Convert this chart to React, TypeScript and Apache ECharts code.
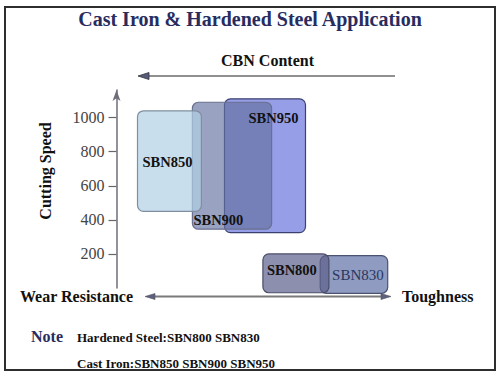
import React, { useEffect, useRef } from 'react';
import * as echarts from 'echarts';

// ---- data ----
const grades = ['SBN950', 'SBN900', 'SBN850', 'SBN830', 'SBN800'];
const toughnessFrom = [36, 25.3, 7, 67.9, 48.8];
const toughnessTo = [63, 51.7, 28.3, 90.4, 70.8];
const speedHigh = [1110, 1090, 1040, 190, 200];
const speedLow = [325, 345, 450, -31, -28];
const speedTicks = [200, 400, 600, 800, 1000];
const noteLines = ['Hardened Steel:SBN800 SBN830', 'Cast Iron:SBN850 SBN900 SBN950'];

// ---- styles ----
const SERIF = '"Liberation Serif", "DejaVu Serif", serif';
const gradeStyle: Record<string, any> = {
  SBN950: { fill: 'rgba(93,106,220,0.65)', stroke: '#3c4270', place: 'topRight', weight: 'bold', color: '#111', size: 14.5 },
  SBN900: { fill: 'rgba(100,112,160,0.65)', stroke: '#6a7090', place: 'bottomLeft', weight: 'bold', color: '#111', size: 14.5 },
  SBN850: { fill: 'rgba(176,208,228,0.7)', stroke: '#7f8fa0', place: 'center', weight: 'bold', color: '#111', size: 14.5 },
  SBN830: { fill: 'rgba(83,101,158,0.65)', stroke: '#4a5270', place: 'centerRight', weight: 'normal', color: '#2a3760', size: 15 },
  SBN800: { fill: 'rgba(91,95,139,0.7)', stroke: '#4a4d66', place: 'topLeft', weight: 'bold', color: '#111', size: 14.5 },
};

function labelPos(place: string, l: number, t: number, r: number, b: number) {
  switch (place) {
    case 'topRight': return { x: r - 7, y: t + 19, align: 'right' };
    case 'bottomLeft': return { x: l + 1, y: b - 9.5, align: 'left' };
    case 'topLeft': return { x: l + 4, y: t + 16, align: 'left' };
    case 'centerRight': return { x: (l + r) / 2 + 4, y: (t + b) / 2 + 1, align: 'center' };
    default: return { x: (l + r) / 2 - 2, y: (t + b) / 2 + 1, align: 'center' };
  }
}

export default function App() {
  const ref = useRef<HTMLDivElement>(null);
  useEffect(() => {
    if (!ref.current) return;
    const chart = echarts.init(ref.current, undefined, { renderer: 'svg' });
    const data = grades.map((g, i) => [toughnessFrom[i], toughnessTo[i], speedHigh[i], speedLow[i], i]);
    const box = (api: any) => {
      const p1 = api.coord([api.value(0), api.value(2)]);
      const p2 = api.coord([api.value(1), api.value(3)]);
      return { l: p1[0], t: p1[1], r: p2[0], b: p2[1] };
    };
    chart.setOption({
      animation: false,
      grid: { left: 116.5, top: 90, width: 300, height: 198 },
      xAxis: { type: 'value', min: 0, max: 100, show: false },
      yAxis: {
        type: 'value',
        min: 0,
        max: 1162,
        interval: 200,
        splitLine: { show: false },
        axisLine: {
          show: true,
          lineStyle: { color: '#6e6e78', width: 1.5 },
          symbol: ['none', 'arrow'],
          symbolSize: [6, 11],
        },
        axisTick: { show: true, length: 8, lineStyle: { color: '#666', width: 1.2 }, customValues: speedTicks },
        axisLabel: {
          customValues: speedTicks,
          margin: 12,
          color: '#444',
          fontFamily: SERIF,
          fontSize: 16,
          formatter: (v: number) => (v > 0 && v % 200 === 0 ? String(v) : ''),
        },
      },
      series: [
        {
          type: 'custom',
          clip: false,
          z: 2,
          data,
          renderItem: (params: any, api: any) => {
            const g = grades[api.value(4)];
            const st = gradeStyle[g];
            const { l, t, r, b } = box(api);
            return {
              type: 'rect',
              shape: { x: l, y: t, width: r - l, height: b - t, r: 6 },
              style: { fill: st.fill, stroke: st.stroke, lineWidth: 1.2 },
            };
          },
        },
        {
          type: 'custom',
          clip: false,
          z: 3,
          data,
          renderItem: (params: any, api: any) => {
            const g = grades[api.value(4)];
            const st = gradeStyle[g];
            const { l, t, r, b } = box(api);
            const lp = labelPos(st.place, l, t, r, b);
            return {
              type: 'text',
              x: lp.x,
              y: lp.y,
              style: {
                text: g,
                fill: st.color,
                font: `${st.weight} ${st.size}px ${SERIF}`,
                align: lp.align,
                verticalAlign: 'middle',
              },
            };
          },
        },
      ],
      graphic: [
        { type: 'rect', shape: { x: 5, y: 7, width: 490, height: 363 }, style: { fill: 'none', stroke: '#2e2e2e', lineWidth: 2 } },
        { type: 'text', x: 250, y: 19, style: { text: 'Cast Iron & Hardened Steel Application', font: `bold 20px ${SERIF}`, fill: '#282c5e', align: 'center', verticalAlign: 'middle' } },
        { type: 'text', x: 267.5, y: 60, style: { text: 'CBN Content', font: `bold 16px ${SERIF}`, fill: '#111', align: 'center', verticalAlign: 'middle' } },
        { type: 'line', shape: { x1: 145, y1: 76, x2: 395, y2: 76 }, style: { stroke: '#222', lineWidth: 1.2 } },
        { type: 'polygon', shape: { points: [[138, 76], [149, 72.5], [149, 79.5]] }, style: { fill: '#585c7c', stroke: '#333', lineWidth: 0.8 } },
        { type: 'text', x: 45, y: 171, rotation: Math.PI / 2, style: { text: 'Cutting Speed', font: `bold 16px ${SERIF}`, fill: '#111', align: 'center', verticalAlign: 'middle' } },
        { type: 'line', shape: { x1: 150, y1: 296.5, x2: 386, y2: 296.5 }, style: { stroke: '#7a7a7a', lineWidth: 2 } },
        { type: 'polygon', shape: { points: [[145, 296.5], [155, 293.5], [155, 299.5]] }, style: { fill: '#5c6080', stroke: '#555', lineWidth: 0.6 } },
        { type: 'polygon', shape: { points: [[391, 296.5], [381, 293.5], [381, 299.5]] }, style: { fill: '#5c6080', stroke: '#555', lineWidth: 0.6 } },
        { type: 'text', x: 20, y: 296, style: { text: 'Wear Resistance', font: `bold 16px ${SERIF}`, fill: '#111', align: 'left', verticalAlign: 'middle' } },
        { type: 'text', x: 402, y: 296, style: { text: 'Toughness', font: `bold 16px ${SERIF}`, fill: '#111', align: 'left', verticalAlign: 'middle' } },
        { type: 'text', x: 31, y: 336.5, style: { text: 'Note', font: `bold 16px ${SERIF}`, fill: '#282c5e', align: 'left', verticalAlign: 'middle' } },
        { type: 'text', x: 77, y: 337, style: { text: noteLines[0], font: `bold 13px ${SERIF}`, fill: '#111', align: 'left', verticalAlign: 'middle' } },
        { type: 'text', x: 77, y: 363.5, style: { text: noteLines[1], font: `bold 13px ${SERIF}`, fill: '#111', align: 'left', verticalAlign: 'middle' } },
      ],
    });
    return () => chart.dispose();
  }, []);
  return <div ref={ref} style={{ position: 'fixed', left: 0, top: 0, width: 500, height: 376, background: '#fff' }} />;
}
